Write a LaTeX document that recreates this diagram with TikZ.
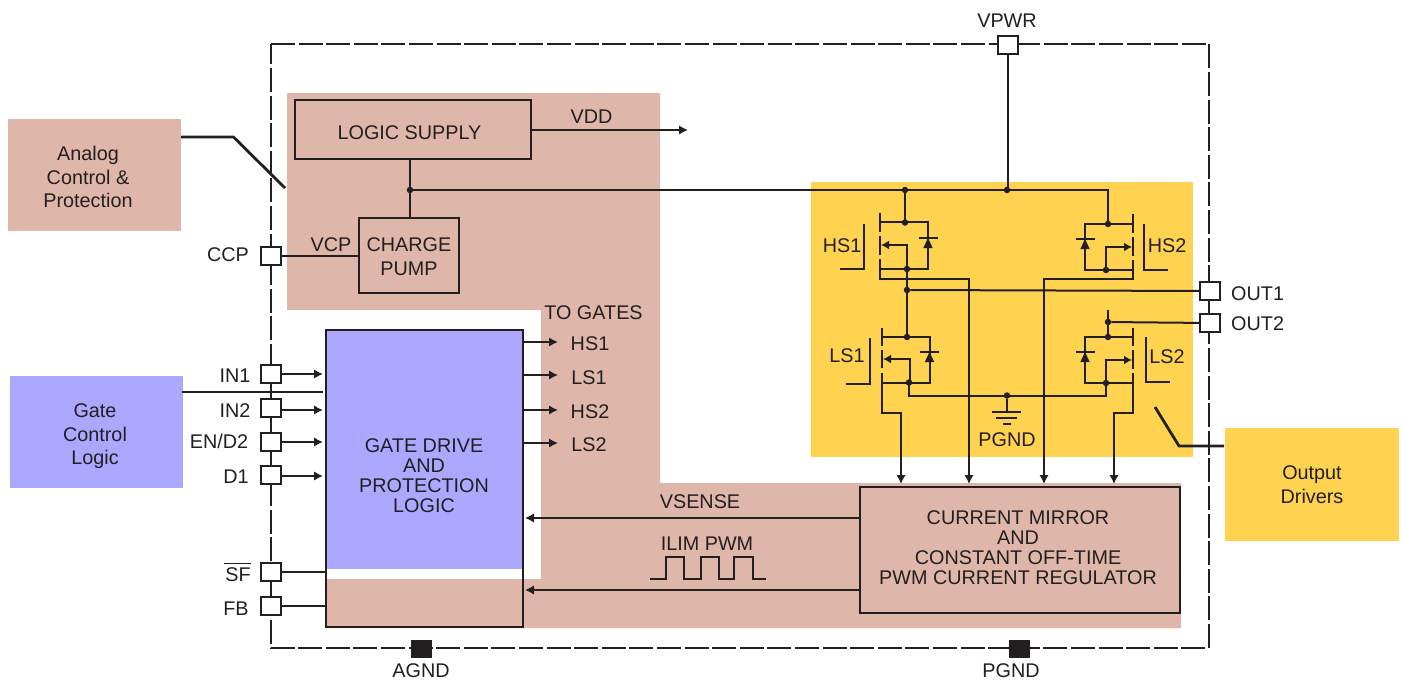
\documentclass[tikz,border=0pt]{standalone}
\usepackage{fontspec}
\setmainfont{Liberation Sans}
\usetikzlibrary{arrows.meta}
\definecolor{peach}{HTML}{DFB7AA}
\definecolor{lav}{HTML}{ACA8FF}
\definecolor{ambr}{HTML}{FFD34F}
\definecolor{ink}{HTML}{231F20}
\tikzset{
 wire/.style={draw=ink,line width=2pt},
 arr/.style={wire,-{Latex[length=9pt,width=9.5pt]}},
 fet arrow/.style={wire,-{Latex[length=8pt,width=9pt]}},
 boxx/.style={draw=ink,line width=2.2pt,inner sep=0pt,outer sep=0pt,anchor=north west},
 pin/.style={draw=ink,line width=2pt,fill=white,minimum width=20pt,minimum height=17.5pt,inner sep=0pt,outer sep=0pt},
 gnd pin/.style={draw=none,fill=ink,minimum width=21pt,minimum height=18pt,inner sep=0pt},
 txt/.style={font=\fontsize{19.8}{21}\selectfont,text=ink,inner sep=0pt,align=center,text height=14.2pt,text depth=0pt},
 dot/.style={circle,fill=ink,minimum size=6.5pt,inner sep=0pt},
}
\newcommand{\mydiode}[2]{% x, bar y
  \draw[wire] (#1-9.5,#2) -- (#1+9.5,#2);
  \fill[ink] (#1,#2) -- (#1+4.7,#2+10) -- (#1-4.7,#2+10) -- cycle;
}
\begin{document}
\begin{tikzpicture}[x=1pt,y=-1pt]
\useasboundingbox (0,0) rectangle (1405,681);
\fill[white] (0,0) rectangle (1405,681);
% colour areas
\fill[peach] (287,93) -- (660,93) -- (660,483) -- (1181,483) -- (1181,628) -- (326,628) -- (326,579) -- (541,579) -- (541,310) -- (287,310) -- cycle;
\fill[ambr] (811,182) rectangle (1193,457);
\node[fill=peach,minimum width=173pt,minimum height=112pt,inner sep=0pt,outer sep=0pt,anchor=north west] (analog) at (8,119) {};
\node[fill=lav,minimum width=173pt,minimum height=112pt,inner sep=0pt,outer sep=0pt,anchor=north west] (gatectl) at (10,376) {};
\node[fill=ambr,minimum width=174pt,minimum height=113pt,inner sep=0pt,outer sep=0pt,anchor=north west] (outdrv) at (1225,428) {};
\node[txt] at (88,153.5) {Analog};
\node[txt] at (88,177) {Control \&};
\node[txt] at (88,200.5) {Protection};
\node[txt] at (95,410) {Gate};
\node[txt] at (95,434) {Control};
\node[txt] at (95,457.5) {Logic};
\node[txt] at (1312,472) {Output};
\node[txt] at (1312,496) {Drivers};
% package outline
\draw[draw=ink,line width=2pt,dash pattern=on 24pt off 3.6pt] (271,44) -- (1209,44) -- (1209,648) -- (271,648) -- cycle;
\draw[wire] (271,383) -- (271,399) (271,417) -- (271,433) (271,451) -- (271,466);
\draw[wire] (271,581) -- (271,597);
% boxes
\node[boxx,minimum width=236pt,minimum height=59pt] (logic) at (295,100) {};
\node[boxx,minimum width=100pt,minimum height=75pt] (pump) at (359,218) {};
\fill[lav] (326,330) rectangle (523,569);
\fill[white] (326,569) rectangle (523,579);
\node[boxx,minimum width=197pt,minimum height=297pt] (gate) at (326,330) {};
\node[boxx,minimum width=320pt,minimum height=126pt] (mirror) at (860,487) {};
\node[txt] at (409.5,132) {LOGIC SUPPLY};
\node[txt] at (409,244.5) {CHARGE};
\node[txt] at (409,268) {PUMP};
\node[txt] at (424,445.5) {GATE DRIVE};
\node[txt] at (424,465.5) {AND};
\node[txt] at (424,485) {PROTECTION};
\node[txt] at (424,505.5) {LOGIC};
\node[txt] at (1018,517.5) {CURRENT MIRROR};
\node[txt] at (1018,537.5) {AND};
\node[txt] at (1018,557.5) {CONSTANT OFF-TIME};
\node[txt] at (1018,577.5) {PWM CURRENT REGULATOR};
% pins
\node[pin] (vpwr) at (1008,45) {};
\node[pin] (ccp) at (271,256) {};
\node[pin] (in1) at (271,374) {};
\node[pin] (in2) at (271,408) {};
\node[pin] (en) at (271,442) {};
\node[pin] (d1) at (271,475) {};
\node[pin] (sf) at (271,572) {};
\node[pin] (fb) at (271,606) {};
\node[pin] (out1) at (1209.5,291) {};
\node[pin] (out2) at (1209.5,323) {};
\node[gnd pin] (agnd) at (421.5,649) {};
\node[gnd pin] (pgnd) at (1019.5,649) {};
\node[txt] at (1007,20) {VPWR};
\node[txt] at (228,254.5) {CCP};
\node[txt] at (235,375.5) {IN1};
\node[txt] at (235,410) {IN2};
\node[txt] at (219,441.5) {EN/D2};
\node[txt] at (236,476.5) {D1};
\draw[wire,line width=1.4pt] (224,563.5) -- (251,563.5);
\node[txt] at (238,574) {SF};
\node[txt] at (236,608) {FB};
\node[txt,anchor=west] at (1231,293) {OUT1};
\node[txt,anchor=west] at (1231,323) {OUT2};
\node[txt] at (421,670) {AGND};
\node[txt] at (1011,670) {PGND};
\node[txt] at (591.5,116) {VDD};
\node[txt] at (331,244.5) {VCP};
\node[txt] at (593.5,312.5) {TO GATES};
\node[txt] at (590,343.5) {HS1};
\node[txt] at (589,377.5) {LS1};
\node[txt] at (590,411.5) {HS2};
\node[txt] at (589,444.5) {LS2};
\node[txt] at (700,501) {VSENSE};
\node[txt] at (707,543) {ILIM PWM};
% left pin connectors
\draw[arr] (in1) -- (323,374);
\draw[arr] (in2.east |- 0,410) -- (323,410);
\draw[arr] (en) -- (323,442);
\draw[arr] (d1.east |- 0,476) -- (323,476);
\draw[wire] (sf) -- (326,572);
\draw[wire] (fb) -- (326,606);
\draw[wire] (ccp) -- (pump.west |- ccp);
% upper left wiring
\coordinate (vddend) at (688,130);
\draw[arr] (logic.east |- vddend) -- (vddend);
\node[dot] (j1) at (410,190) {};
\draw[wire] (logic.south -| j1) -- (pump.north -| j1);
\draw[wire] (j1) -- (1007,190);
\draw[wire] (vpwr) -- (1008,190);
\node[dot] at (1007,190) {};
% gate outputs
\draw[arr] (523,342) -- (558,342);
\draw[arr] (523,375) -- (558,375);
\draw[arr] (523,410) -- (558,410);
\draw[arr] (523,443) -- (558,443);
% regulator returns
\draw[arr] (mirror.west |- 0,518) -- (525,518);
\draw[arr] (mirror.west |- 0,590) -- (525,590);
\draw[wire,line join=miter] (650,579) -- (666,579) -- (666,557) -- (684,557) -- (684,579) -- (700.5,579) -- (700.5,557) -- (719,557) -- (719,579) -- (734,579) -- (734,557) -- (752.5,557) -- (752.5,579) -- (766,579);
% callouts
\draw[wire,line width=2.8pt] (181,137) -- (233.5,137) -- (285,188);
\draw[wire,line width=2.8pt] (182,392) -- (323,392);
\draw[wire,line width=2.8pt] (1155,407) -- (1179,446) -- (1224,446);
% HS1
\draw[wire] (905,190) -- (905,222);
\draw[wire] (880,213) -- (880,232) (880,236) -- (880,255);
\draw[wire] (880,259) -- (880,279) -- (969,279) -- (969,476);
\draw[wire] (880,222) -- (928,222) -- (928,269) -- (880,269);
\draw[fet arrow] (907,269) -- (907,245) -- (881,245);
\mydiode{928}{238}
\draw[wire] (864,224) -- (864,269) -- (840,269);
\node[txt] at (842,245) {HS1};
\node[dot] at (905,190) {};
\node[dot] at (905,222.5) {};
\node[dot] at (907,269) {};
% HS1 to LS1 and OUT1
\draw[wire] (907,269) -- (907,337);
\node[dot] (j2) at (907,290) {};
\draw[wire] (j2) -- (out1);
% HS2
\draw[wire] (1007,190) -- (1108,190) -- (1108,224);
\draw[wire] (1133,214) -- (1133,233) (1133,237) -- (1133,256);
\draw[wire] (1133,260) -- (1133,278.5) -- (1044,278.5) -- (1044,476);
\draw[wire] (1133,224) -- (1085,224) -- (1085,270) -- (1133,270);
\draw[fet arrow] (1106,270) -- (1106,247) -- (1132,247);
\mydiode{1085}{239}
\draw[wire] (1144,224) -- (1144,270) -- (1168,270);
\node[txt] at (1167,245) {HS2};
\node[dot] at (1108,224) {};
\node[dot] at (1106,270) {};
% LS1
\draw[wire] (882,327.5) -- (882,346) (882,350) -- (882,368);
\draw[wire] (882,373) -- (882,413) -- (901,413) -- (901,476);
\draw[wire] (882,337) -- (929.5,337) -- (929.5,382.5) -- (882,382.5);
\draw[fet arrow] (909.5,382.5) -- (909.5,359) -- (883,359);
\mydiode{929.5}{352}
\draw[wire] (870,338) -- (870,383.5) -- (846,383.5);
\node[txt] at (847,355.5) {LS1};
\node[dot] at (907,337) {};
\node[dot] at (909,382.5) {};
% LS2
\draw[wire] (1108,310) -- (1108,337);
\node[dot] (j3) at (1108,322) {};
\draw[wire] (j3) -- (out2);
\draw[wire] (1133,327.5) -- (1133,346) (1133,350) -- (1133,369);
\draw[wire] (1133,373) -- (1133,413) -- (1114,413) -- (1114,476);
\draw[wire] (1133,337) -- (1085,337) -- (1085,383) -- (1133,383);
\draw[fet arrow] (1106,383) -- (1106,360) -- (1132,360);
\mydiode{1085}{352}
\draw[wire] (1146,337) -- (1146,381.5) -- (1170,381.5);
\node[txt] at (1167,356.5) {LS2};
\node[dot] at (1108,337) {};
\node[dot] at (1106,383) {};
% source line and ground
\draw[wire] (909,382.5) -- (909,395.5) -- (1106,395.5) -- (1106,383);
\node[dot] (j4) at (1007,395.5) {};
\draw[wire] (j4) -- (1007,412);
\draw[wire] (992,412) -- (1021,412) (996,418) -- (1017,418) (1003,424) -- (1011,424);
\node[txt] at (1007,439.5) {PGND};
% arrows into regulator
\draw[arr] (901,470) -- (901,484);
\draw[arr] (969,470) -- (969,484);
\draw[arr] (1044,470) -- (1044,484);
\draw[arr] (1114,470) -- (1114,484);
\end{tikzpicture}
\end{document}
